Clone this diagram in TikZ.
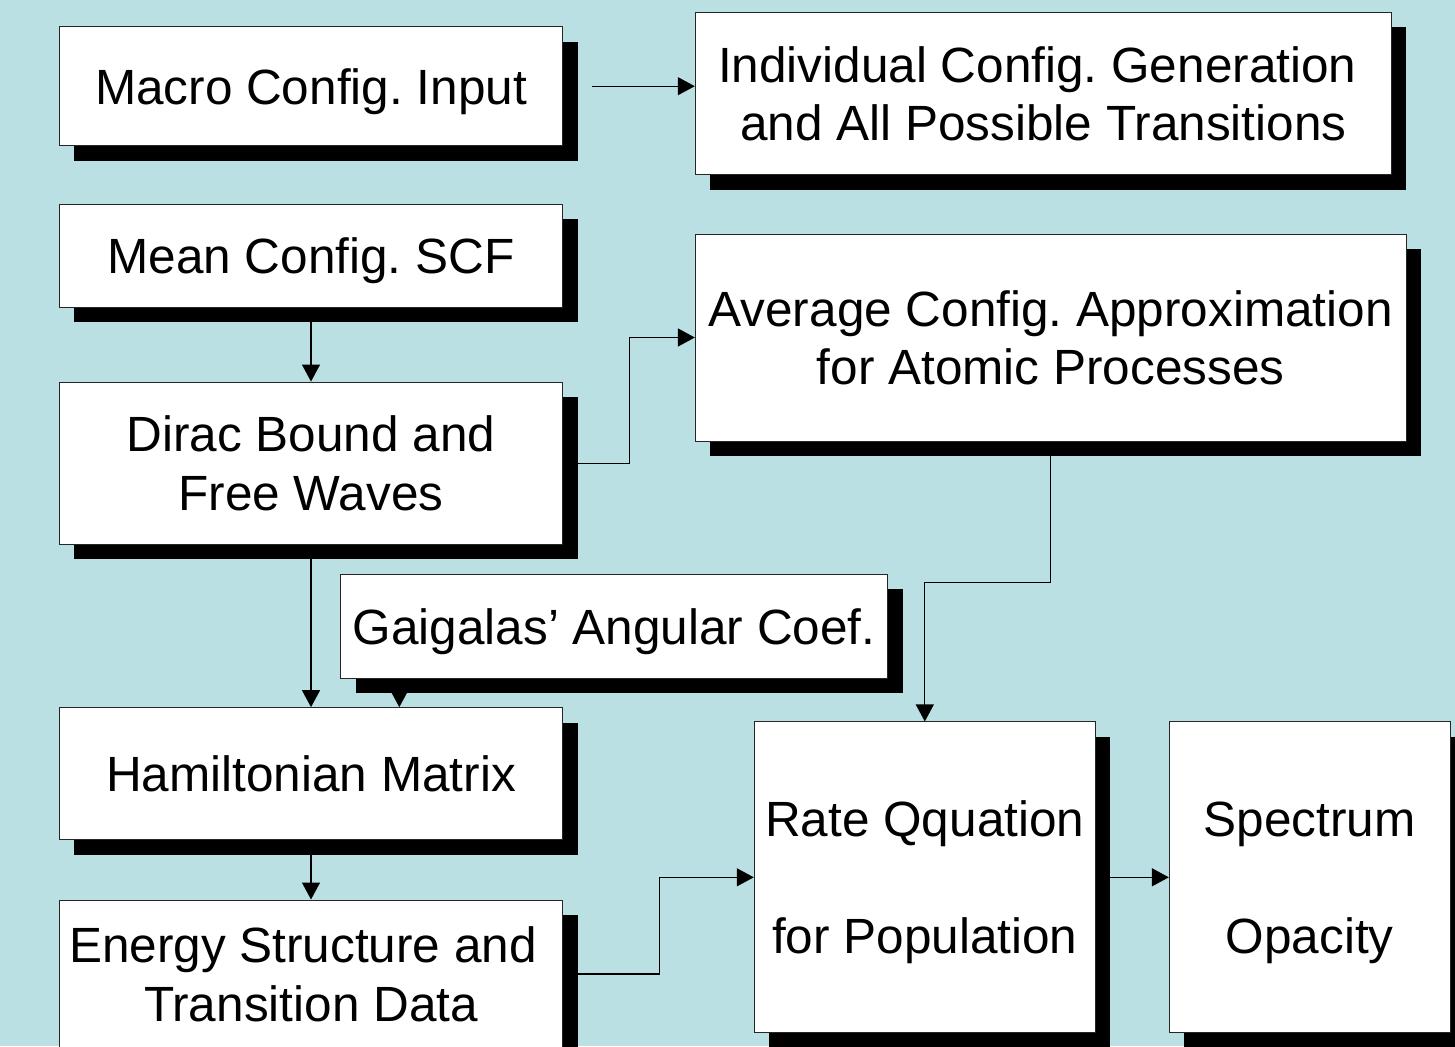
\documentclass[tikz,border=0pt]{standalone}
\usepackage{fontspec}
\setmainfont{Liberation Sans}
\usetikzlibrary{shadows,arrows.meta}
\definecolor{bgblue}{RGB}{187,224,227}
\frenchspacing
\begin{document}
\begin{tikzpicture}[x=1pt,y=-1pt,
  box/.style={draw=black!85, line width=1pt, fill=white, inner sep=0pt, align=center,
    text depth=0pt,
    font=\fontsize{49.5}{58.5}\selectfont\frenchspacing,
    drop shadow={shadow xshift=15pt, shadow yshift=-15pt, fill=black, opacity=1}},
  conn/.style={line width=1.3pt, -{Triangle[length=17pt,width=18pt]}},
  link/.style={line width=1.3pt}]
\useasboundingbox (0,0) rectangle (1455,1046);
\clip (0,0) rectangle (1455,1046);
\fill[bgblue] (0,0) rectangle (1455,1046);

\node[box, minimum width=503.4pt, minimum height=119pt] (macro) at (311,86.2) {Macro Config. Input};
\node[box, minimum width=696pt, minimum height=162.4pt] (indiv) at (1043.3,93.5) {Individual Config. Generation\hspace*{12pt}\\and All Possible Transitions};
\node[box, minimum width=503.4pt, minimum height=103pt] (mean) at (311,255.5) {Mean Config. SCF};
\node[box, minimum width=710.7pt, minimum height=207pt] (avg) at (1050.7,337.5) {Average Config. Approximation\\for Atomic Processes};
\node[box, minimum width=503.4pt, minimum height=162.3pt] (dirac) at (311,463.2) {Dirac Bound and\\Free Waves};
\node[box, minimum width=547pt, minimum height=103.7pt] (gai) at (614.2,626.2) {Gaigalas’ Angular Coef.};
\node[box, minimum width=503.4pt, minimum height=132.3pt] (ham) at (311,773.8) {Hamiltonian Matrix};
\node[box, minimum width=503.4pt, minimum height=148pt] (energy) at (311,974) {Energy Structure and\hspace*{16pt}\\Transition Data};
\node[box, minimum width=341pt, minimum height=310.7pt] (rate) at (924.8,877.3) {Rate Qquation\\[58.5pt]for Population};
\node[box, minimum width=280.7pt, minimum height=310.7pt] (spec) at (1309.7,877.3) {Spectrum\\[58.5pt]Opacity};

\coordinate (gx) at (399.3,0);

\draw[conn, shorten <=29pt] (macro.east) -- (macro.east -| indiv.west);
\draw[conn] (mean.south) -- (dirac.north);
\draw[conn] (dirac.east) -- ++(66.3,0) |- (avg.west);
\draw[conn] (dirac.south) -- (ham.north);
\draw[conn] (gai.south -| gx) -- (ham.north -| gx);
\draw[conn] (avg.south) -- ++(0,141) -| (rate.north);
\draw[conn] (ham.south) -- (energy.north);
\draw[conn] (energy.east) -- ++(96,0) |- (rate.west);
\draw[conn] (rate.east) -- (spec.west);
\end{tikzpicture}
\end{document}
